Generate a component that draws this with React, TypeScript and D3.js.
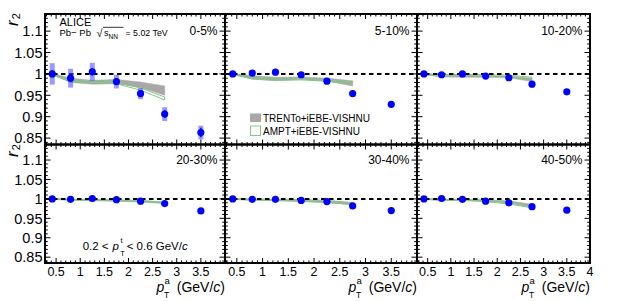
import React from "react";
import * as d3 from "d3";

// ---------- data ----------
const ptA = [0.42, 0.8, 1.25, 1.75, 2.25, 2.75, 3.5];
const ptModel = [0.42, 0.8, 1.25, 1.75, 2.25, 2.75];
const centralities = ["0-5%", "5-10%", "10-20%", "20-30%", "30-40%", "40-50%"];

const r2_0_5 = [1.0, 0.99, 1.005, 0.982, 0.954, 0.906, 0.863];
const r2_5_10 = [1.0, 1.002, 1.004, 0.998, 0.983, 0.954, 0.929];
const r2_10_20 = [1.0, 0.998, 1.0, 0.995, 0.991, 0.976, 0.958];
const r2_20_30 = [1.0, 0.999, 1.001, 0.998, 0.994, 0.988, 0.969];
const r2_30_40 = [1.0, 0.999, 0.999, 0.996, 0.993, 0.982, 0.97];
const r2_40_50 = [1.0, 1.001, 0.999, 0.994, 0.99, 0.98, 0.971];

const stat_0_5 = [0.008, 0.009, 0.009, 0.008, 0.008, 0.009, 0.011];
const stat_5_10 = [0.003, 0.003, 0.003, 0.003, 0.003, 0.004, 0.004];
const stat_10_20 = [0.002, 0.002, 0.002, 0.002, 0.002, 0.003, 0.003];
const stat_20_30 = [0.002, 0.002, 0.002, 0.002, 0.002, 0.002, 0.003];
const stat_30_40 = [0.002, 0.002, 0.002, 0.002, 0.002, 0.002, 0.003];
const stat_40_50 = [0.002, 0.002, 0.002, 0.002, 0.002, 0.002, 0.003];

const syst_0_5 = [0.025, 0.022, 0.021, 0.016, 0.013, 0.016, 0.016];
const syst_5_10 = [0.006, 0.006, 0.006, 0.005, 0.005, 0.005, 0.005];
const syst_10_20 = [0.003, 0.003, 0.003, 0.003, 0.003, 0.003, 0.003];
const syst_20_30 = [0.003, 0.003, 0.003, 0.003, 0.003, 0.003, 0.003];
const syst_30_40 = [0.003, 0.003, 0.003, 0.003, 0.003, 0.003, 0.003];
const syst_40_50 = [0.003, 0.003, 0.003, 0.003, 0.003, 0.003, 0.003];

// TRENTo+iEBE-VISHNU band (low / high)
const trLo_0_5 = [0.998, 0.98, 0.976, 0.977, 0.968, 0.95];
const trHi_0_5 = [1.002, 0.99, 0.985, 0.987, 0.981, 0.972];
const trLo_5_10 = [0.998, 0.988, 0.984, 0.987, 0.983, 0.972];
const trHi_5_10 = [1.001, 0.996, 0.992, 0.993, 0.99, 0.984];
const trLo_10_20 = [0.998, 0.993, 0.992, 0.992, 0.991, 0.982];
const trHi_10_20 = [1.001, 0.997, 0.996, 0.996, 0.995, 0.99];
const trLo_20_30 = [0.999, 0.996, 0.995, 0.994, 0.992, 0.988];
const trHi_20_30 = [1.001, 0.999, 0.998, 0.997, 0.996, 0.992];
const trLo_30_40 = [0.999, 0.996, 0.995, 0.993, 0.99, 0.985];
const trHi_30_40 = [1.001, 0.999, 0.998, 0.997, 0.995, 0.991];
const trLo_40_50 = [0.999, 0.996, 0.996, 0.994, 0.989, 0.978];
const trHi_40_50 = [1.001, 0.999, 0.999, 0.998, 0.995, 0.986];

// AMPT+iEBE-VISHNU band (low / high)
const amLo_0_5 = [0.998, 0.982, 0.98, 0.977, 0.962, 0.939];
const amHi_0_5 = [1.001, 0.986, 0.984, 0.981, 0.967, 0.946];
const amLo_5_10 = [0.999, 0.988, 0.985, 0.986, 0.983, 0.978];
const amHi_5_10 = [1.001, 0.991, 0.988, 0.989, 0.986, 0.981];
const amLo_10_20 = [0.999, 0.995, 0.996, 0.995, 0.994, 0.988];
const amHi_10_20 = [1.001, 0.998, 0.999, 0.998, 0.997, 0.992];
const amLo_20_30 = [0.999, 0.997, 0.996, 0.995, 0.993, 0.989];
const amHi_20_30 = [1.001, 0.999, 0.998, 0.997, 0.996, 0.991];
const amLo_30_40 = [0.999, 0.997, 0.996, 0.994, 0.991, 0.985];
const amHi_30_40 = [1.001, 1.0, 0.999, 0.998, 0.996, 0.99];
const amLo_40_50 = [0.999, 0.996, 0.996, 0.993, 0.987, 0.977];
const amHi_40_50 = [1.001, 0.998, 0.998, 0.996, 0.991, 0.981];

const yTickLabels = ["0.85", "0.9", "0.95", "1", "1.05", "1.1"];
const xTickLabels = ["0.5", "1", "1.5", "2", "2.5", "3", "3.5", "4"];
const legendLabels = ["TRENTo+iEBE-VISHNU", "AMPT+iEBE-VISHNU"];

const xDomain = [0.27, 4];
const yDomain = [0.835, 1.14];

const panels = [
  { label: centralities[0], r2: r2_0_5, stat: stat_0_5, syst: syst_0_5, trLo: trLo_0_5, trHi: trHi_0_5, amLo: amLo_0_5, amHi: amHi_0_5 },
  { label: centralities[1], r2: r2_5_10, stat: stat_5_10, syst: syst_5_10, trLo: trLo_5_10, trHi: trHi_5_10, amLo: amLo_5_10, amHi: amHi_5_10 },
  { label: centralities[2], r2: r2_10_20, stat: stat_10_20, syst: syst_10_20, trLo: trLo_10_20, trHi: trHi_10_20, amLo: amLo_10_20, amHi: amHi_10_20 },
  { label: centralities[3], r2: r2_20_30, stat: stat_20_30, syst: syst_20_30, trLo: trLo_20_30, trHi: trHi_20_30, amLo: amLo_20_30, amHi: amHi_20_30 },
  { label: centralities[4], r2: r2_30_40, stat: stat_30_40, syst: syst_30_40, trLo: trLo_30_40, trHi: trHi_30_40, amLo: amLo_30_40, amHi: amHi_30_40 },
  { label: centralities[5], r2: r2_40_50, stat: stat_40_50, syst: syst_40_50, trLo: trLo_40_50, trHi: trHi_40_50, amLo: amLo_40_50, amHi: amHi_40_50 },
];

// ---------- layout ----------
const W = 630;
const H = 301;
const FONT = "'Liberation Sans', Arial, Helvetica, sans-serif";
const colEdges = [45, 225, 417, 590];
const rowEdges = [14, 144.5, 263];
const BLUE = "#0000ff";
const SYST = "rgba(70,70,255,0.55)";
const GRAY = "#a8a8a8";
const GREEN = "#84c884";

function Panel({ idx }: { idx: number }) {
  const p = panels[idx];
  const col = idx % 3;
  const row = Math.floor(idx / 3);
  const x0 = colEdges[col], x1 = colEdges[col + 1];
  const y0 = rowEdges[row], y1 = rowEdges[row + 1];
  const x = d3.scaleLinear().domain(xDomain).range([x0, x1]);
  const y = d3.scaleLinear().domain(yDomain).range([y1, y0]);

  const trData = ptModel.map((v, i) => ({ x: v, lo: p.trLo[i], hi: p.trHi[i] }));
  const amData = ptModel.map((v, i) => ({ x: v, lo: p.amLo[i], hi: p.amHi[i] }));
  const area = d3
    .area<{ x: number; lo: number; hi: number }>()
    .x((d) => x(d.x))
    .y0((d) => y(d.lo))
    .y1((d) => y(d.hi));

  const xMinor = d3.range(3, 40).map((v) => v / 10);
  const yMinor = d3.range(84, 114).map((v) => v / 100);
  const xMajLen = 5, xMinLen = 2.5, yMajLen = 5.5, yMinLen = 2.8;

  const ticks: JSX.Element[] = [];
  xMinor.forEach((v, i) => {
    const major = Math.round(v * 10) % 5 === 0;
    const L = major ? xMajLen : xMinLen;
    const px = x(v);
    ticks.push(<line key={"xb" + i} x1={px} x2={px} y1={y1} y2={y1 - L} />);
    ticks.push(<line key={"xt" + i} x1={px} x2={px} y1={y0} y2={y0 + L} />);
  });
  yMinor.forEach((v, i) => {
    const major = Math.round(v * 100) % 5 === 0;
    const L = major ? yMajLen : yMinLen;
    const py = y(v);
    ticks.push(<line key={"yl" + i} x1={x0} x2={x0 + L} y1={py} y2={py} />);
    ticks.push(<line key={"yr" + i} x1={x1} x2={x1 - L} y1={py} y2={py} />);
  });

  const boxW = 5;

  return (
    <g>
      {/* model bands */}
      <path d={area(trData) || ""} fill={GRAY} stroke={GRAY} strokeWidth={0.5} />
      <path d={area(amData) || ""} fill="none" stroke={GREEN} strokeWidth={1} />
      {/* reference line */}
      <line x1={x0} x2={x1} y1={y(1)} y2={y(1)} stroke="#000" strokeWidth={2} strokeDasharray="4.5,3.5" />
      {/* systematic boxes */}
      {ptA.map((v, i) => (
        <rect
          key={"s" + i}
          x={x(v) - boxW / 2}
          width={boxW}
          y={y(p.r2[i] + p.syst[i])}
          height={y(p.r2[i] - p.syst[i]) - y(p.r2[i] + p.syst[i])}
          fill={SYST}
        />
      ))}
      {/* stat bars */}
      {ptA.map((v, i) => (
        <line
          key={"e" + i}
          x1={x(v)}
          x2={x(v)}
          y1={y(p.r2[i] + p.stat[i])}
          y2={y(p.r2[i] - p.stat[i])}
          stroke={BLUE}
          strokeWidth={1.5}
        />
      ))}
      {/* points */}
      {ptA.map((v, i) => (
        <circle key={"p" + i} cx={x(v)} cy={y(p.r2[i])} r={3.6} fill={BLUE} />
      ))}
      {/* ticks */}
      <g stroke="#000" strokeWidth={1}>{ticks}</g>
      {/* frame */}
      <rect x={x0} y={y0} width={x1 - x0} height={y1 - y0} fill="none" stroke="#000" strokeWidth={2} />
      {/* centrality label */}
      <text x={x1 - 7.5} y={y0 + (row === 0 ? 20.5 : 19.5)} textAnchor="end" fontSize={12} fontFamily={FONT}>
        {p.label}
      </text>
      {/* y tick labels */}
      {col === 0 &&
        yTickLabels.map((t) => (
          <text key={"yl" + t} x={x0 - 2.5} y={y(+t)} dy="0.36em" textAnchor="end" fontSize={14.5} fontFamily={FONT}>
            {t}
          </text>
        ))}
      {/* x tick labels */}
      {row === 1 &&
        xTickLabels
          .filter((t) => col === 2 || t !== "4")
          .map((t) => (
            <text key={"xl" + t} x={x(+t)} y={276} textAnchor="middle" fontSize={12.5} fontFamily={FONT}>
              {t}
            </text>
          ))}
      {/* x title */}
      {row === 1 && (
        <g fontFamily={FONT}>
          <text x={x1 - 68.5} y={291.5} fontSize={14} fontStyle="italic">p</text>
          <text x={x1 - 60.5} y={283.5} fontSize={9.5}>a</text>
          <text x={x1 - 61} y={298} fontSize={8.5}>T</text>
          <text x={x1} y={291.5} fontSize={14} textAnchor="end">
            (GeV/<tspan fontStyle="italic">c</tspan>)
          </text>
        </g>
      )}
      {/* y title */}
      {col === 0 && (
        <text
          transform={`translate(17.5, ${row === 0 ? 26 : 157}) rotate(-90)`}
          fontFamily={FONT}
          fontSize={17}
        >
          <tspan fontStyle="italic">r</tspan>
          <tspan fontSize={11} dy={2} dx={1}>2</tspan>
        </text>
      )}
    </g>
  );
}

export default function App() {
  return (
    <svg width={W} height={H} style={{ display: "block", position: "absolute", left: 0, top: 0 }}>
      <rect x={0} y={0} width={W} height={H} fill="#fff" />
      {panels.map((_, i) => (
        <Panel key={i} idx={i} />
      ))}
      {/* ALICE label */}
      <g fontFamily={FONT}>
        <text x={59.5} y={26} fontSize={11}>ALICE</text>
        <text x={59.5} y={36} fontSize={9.5}>Pb− Pb</text>
        <text x={96.5} y={36.5} fontSize={11}>√</text>
        <line x1={103} x2={123.5} y1={27.3} y2={27.3} stroke="#000" strokeWidth={0.8} />
        <text x={104} y={36} fontSize={9}>s</text>
        <text x={108.5} y={38.5} fontSize={6.5}>NN</text>
        <text x={125.5} y={36} fontSize={8.8}>= 5.02 TeV</text>
      </g>
      {/* legend */}
      <g fontFamily={FONT} fontSize={10}>
        <rect x={250} y={113.5} width={11} height={8.5} fill={GRAY} />
        <text x={263} y={121.7}>{legendLabels[0]}</text>
        <rect x={250.5} y={126} width={10} height={9.5} fill="none" stroke={GREEN} strokeWidth={1} />
        <text x={263} y={135}>{legendLabels[1]}</text>
      </g>
      {/* trigger range */}
      <g fontFamily={FONT} fontSize={11.5}>
        <text x={82.7} y={250}>0.2 &lt;</text>
        <text x={112.5} y={250} fontStyle="italic">p</text>
        <text x={120.5} y={243} fontSize={7.5}>t</text>
        <text x={120.3} y={256} fontSize={7.5}>T</text>
        <text x={126.7} y={250}>
          &lt; 0.6 GeV/<tspan fontStyle="italic">c</tspan>
        </text>
      </g>
    </svg>
  );
}
